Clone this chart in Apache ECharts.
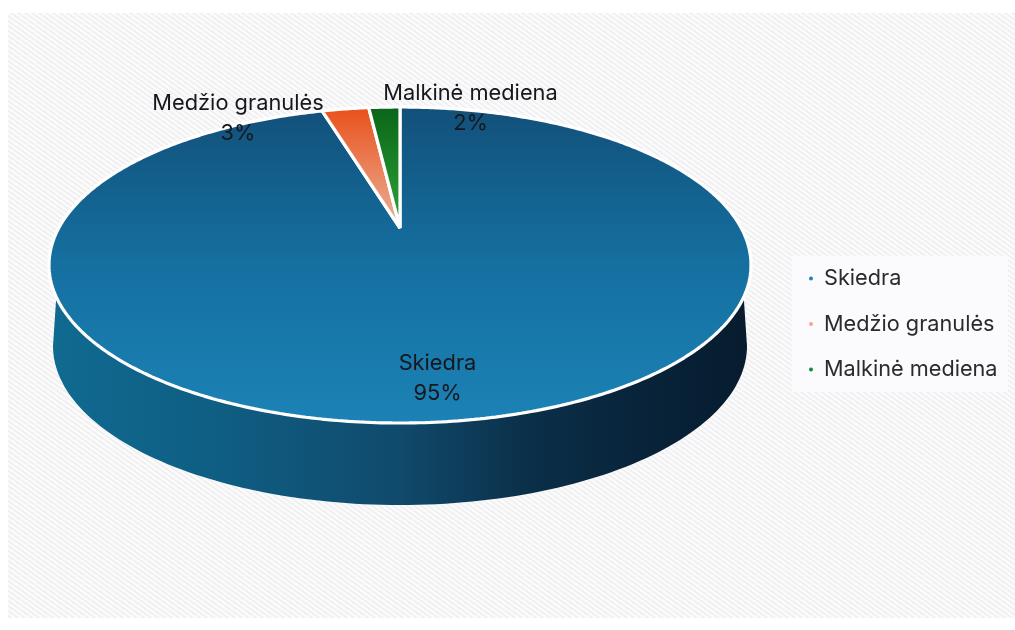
<!DOCTYPE html>
<html><head><meta charset="utf-8">
<style>html,body{margin:0;padding:0;background:#fff}#c{width:1015px;height:630px}</style>
<script src="https://cdn.jsdelivr.net/npm/echarts@6/dist/echarts.min.js"></script>
</head><body><div id="c"></div>
<script>
const categories = ['Skiedra', 'Medžio granulės', 'Malkinė mediena'];
const values = [95, 3, 2];
const legendColors = ['#1c82b8', '#f4a58a', '#128a3a'];

const G = echarts.graphic;
const top3d = {cx: 400, cy: 265, rx: 351, ry: 158, apexY: 228, persp: 0.33};
const base3d = {cx: 400, cy: 346, rx: 347, ry: 159};
const labelPos = [[437.5, 378], [238, 118], [470.5, 108]];
const fills = [
  new G.LinearGradient(0, 0, 0, 1, [{offset: 0, color: '#12507a'}, {offset: 0.5, color: '#1570a0'}, {offset: 1, color: '#1c82b6'}]),
  new G.LinearGradient(0, 0, 0, 1, [{offset: 0, color: '#ea4f1a'}, {offset: 1, color: '#eab49c'}]),
  new G.LinearGradient(0, 0, 0, 1, [{offset: 0, color: '#0a6418'}, {offset: 1, color: '#2fa638'}])
];
const wallFill = new G.LinearGradient(0, 0, 1, 0, [
  {offset: 0, color: '#106a90'}, {offset: 0.25, color: '#0f5d82'}, {offset: 0.5, color: '#104a6c'},
  {offset: 0.68, color: '#0b3049'}, {offset: 0.85, color: '#08233a'}, {offset: 1, color: '#071c2e'}
]);

function rimPoint(theta) {
  const c = top3d.persp, u = Math.sin(theta), v = -Math.cos(theta), d = 1 - c * v;
  return [top3d.cx + top3d.rx * Math.sqrt(1 - c * c) * u / d,
          top3d.cy + top3d.ry * (v - c) / d];
}
function wallPoints() {
  const pts = [];
  const a0 = Math.asin(32 / top3d.ry);
  for (let i = 0; i <= 120; i++) {
    const a = a0 + (Math.PI - 2 * a0) * i / 120;
    pts.push([top3d.cx - top3d.rx * Math.cos(a), top3d.cy + top3d.ry * Math.sin(a)]);
  }
  for (let i = 0; i <= 120; i++) {
    const a = Math.PI * i / 120;
    pts.push([base3d.cx + base3d.rx * Math.cos(a), base3d.cy + base3d.ry * Math.sin(a)]);
  }
  return pts;
}
const total = values.reduce((a, b) => a + b, 0);
function makeRender(idx) {
  return function () {
    const before = values.slice(0, idx).reduce((a, b) => a + b, 0);
    const t0 = before / total * 2 * Math.PI, t1 = (before + values[idx]) / total * 2 * Math.PI;
    const pts = [[top3d.cx, top3d.apexY]];
    const n = Math.max(4, Math.round((t1 - t0) * 90));
    for (let i = 0; i <= n; i++) pts.push(rimPoint(t0 + (t1 - t0) * i / n));
    const children = [];
    if (idx === 0) children.push({type: 'polygon', shape: {points: wallPoints()}, style: {fill: wallFill}, z2: 1});
    children.push({type: 'polygon', shape: {points: pts}, z2: 2,
      style: {fill: fills[idx], stroke: '#fff', lineWidth: 3.2, lineJoin: 'bevel'}});
    children.push({type: 'text', z2: 10, style: {
      text: categories[idx] + '\n' + Math.round(values[idx] / total * 100) + '%',
      x: labelPos[idx][0], y: labelPos[idx][1], align: 'center', verticalAlign: 'middle',
      font: '400 21.8px Inter, "Noto Sans", sans-serif', lineHeight: 30, fill: '#17171c'}});
    return {type: 'group', children};
  };
}
const tile = document.createElement('canvas');
tile.width = 7; tile.height = 5;
const tc = tile.getContext('2d');
tc.fillStyle = '#fbfbfc'; tc.fillRect(0, 0, 7, 5);
tc.strokeStyle = '#eeeef1'; tc.lineWidth = 1.5;
for (let k = -7; k <= 7; k += 7) { tc.beginPath(); tc.moveTo(k, 0); tc.lineTo(k + 7, 5); tc.stroke(); }

const chart = echarts.init(document.getElementById('c'), null, {renderer: 'canvas'});
chart.setOption({
  animation: false,
  backgroundColor: '#ffffff',
  graphic: [
    {type: 'rect', z: 0, shape: {x: 8, y: 13, width: 1007, height: 605}, style: {fill: {image: tile, repeat: 'repeat'}}},
    {type: 'rect', z: 0, shape: {x: 792, y: 256, width: 216, height: 136}, style: {fill: '#fbfbfd'}}
  ],
  legend: {
    orient: 'vertical', left: 804, top: 260, itemGap: 18.5, itemWidth: 4, itemHeight: 4,
    icon: 'circle', selectedMode: false,
    textStyle: {fontFamily: 'Inter, "Noto Sans", sans-serif', fontSize: 21.7, color: '#2a2a30', padding: [0, 0, 0, 6], lineHeight: 27},
    data: categories.map((c, i) => ({name: c, itemStyle: {color: legendColors[i]}}))
  },
  series: categories.map((c, i) => ({
    type: 'custom', name: c, coordinateSystem: 'none', silent: true,
    itemStyle: {color: legendColors[i]},
    renderItem: makeRender(i), data: [[values[i]]]
  }))
});
</script></body></html>
